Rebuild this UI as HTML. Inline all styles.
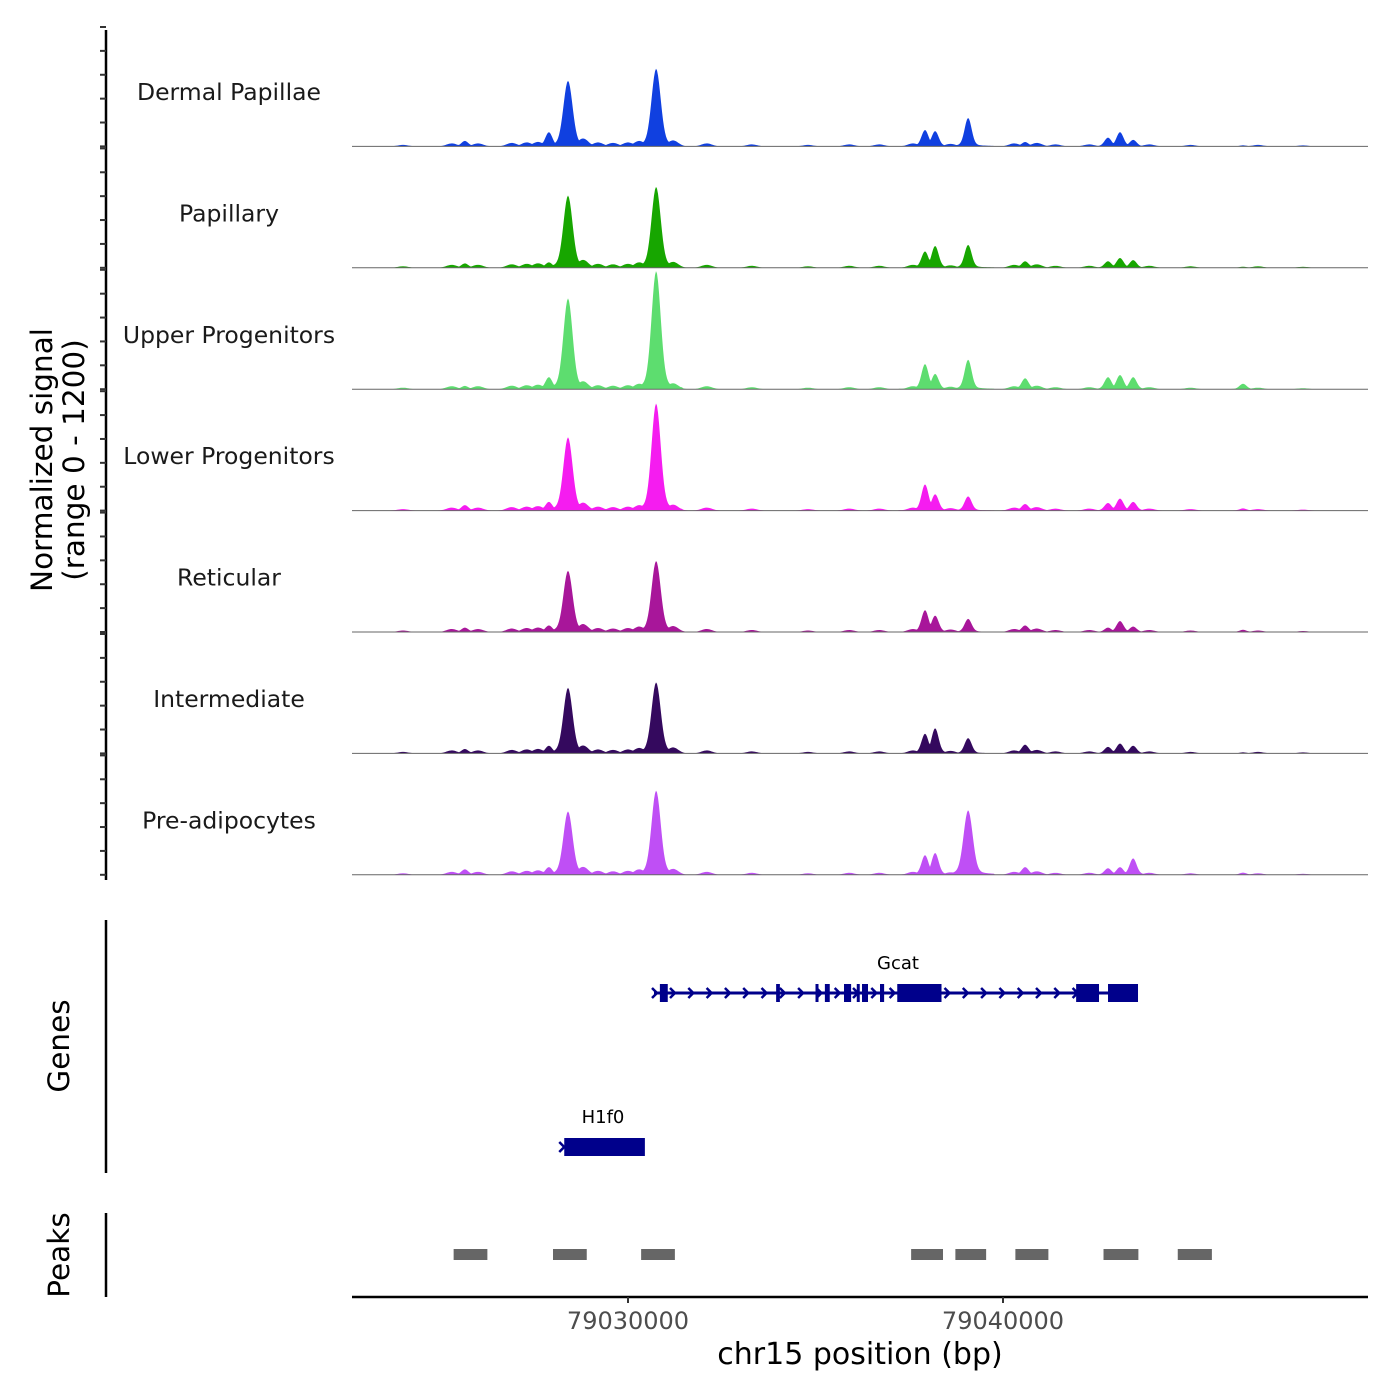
<!DOCTYPE html>
<html><head><meta charset="utf-8"><style>
html,body{margin:0;padding:0;background:#fff;}
svg{display:block;font-family:"DejaVu Sans","Liberation Sans",sans-serif;}
</style></head><body>
<svg id="chart" width="1400" height="1400" viewBox="0 0 1400 1400" xmlns="http://www.w3.org/2000/svg">
<g id="tracks"></g>
<g id="yaxis"></g>
<text transform="translate(52,460) rotate(-90)" text-anchor="middle" font-size="29.5" fill="#000">Normalized signal</text>
<text transform="translate(84,460) rotate(-90)" text-anchor="middle" font-size="29.5" fill="#000">(range 0 - 1200)</text>
<g id="genes"></g>
<line x1="106" y1="920" x2="106" y2="1173" stroke="#000" stroke-width="2.5"/>
<text transform="translate(69,1046) rotate(-90)" text-anchor="middle" font-size="29.5" fill="#000">Genes</text>
<g id="peaks"></g>
<line x1="106" y1="1213" x2="106" y2="1297" stroke="#000" stroke-width="2.5"/>
<text transform="translate(69,1255) rotate(-90)" text-anchor="middle" font-size="29.5" fill="#000">Peaks</text>
<g id="xaxis"></g>
<text x="860" y="1364" text-anchor="middle" font-size="30" fill="#000">chr15 position (bp)</text>
</svg>
<script>
const trackNames = ["Dermal Papillae","Papillary","Upper Progenitors","Lower Progenitors","Reticular","Intermediate","Pre-adipocytes"];
const trackColors = ["#1040e0","#17a600","#5ddd6f","#f51cf0","#a8169a","#34095e","#bf4ff5"];
const peakPositions = [79025650,79027890,79028400,79030750,79037920,79038190,79039070,79040590,79042800,79043120,79043470,79046400];
const dermalValues = [50,130,600,710,150,140,260,40,80,130,60,10];
const papillaryValues = [40,50,660,740,150,200,210,60,60,90,70,10];
const upperValues = [30,110,830,1080,230,140,270,100,110,130,110,50];
const lowerValues = [50,80,670,980,240,150,130,60,70,110,80,20];
const reticularValues = [40,60,560,650,200,150,120,60,40,100,50,20];
const intermediateValues = [40,70,600,650,180,230,140,80,60,90,70,10];
const preadipValues = [50,70,580,770,180,200,590,70,60,70,150,20];
const trackValues = [dermalValues,papillaryValues,upperValues,lowerValues,reticularValues,intermediateValues,preadipValues];
const backgroundPositions = [79024000,79025300,79026000,79026900,79027300,79027600,79028800,79029200,79029600,79030000,79030300,79031200,79032100,79033300,79034800,79035900,79036700,79037600,79038600,79040300,79040900,79041400,79042300,79043900,79045000,79046800,79048000];
const backgroundValues = [15,30,30,35,40,45,80,40,35,40,55,60,30,20,15,20,20,30,25,30,35,20,20,20,15,15,10];
const geneNames = ["Gcat","H1f0"];
const gcatStart = 79030800, gcatEnd = 79043500;
const gcatExons = [[79030850,79031060],[79033950,79034050],[79035000,79035080],[79035250,79035380],[79035760,79035950],[79036100,79036160],[79036240,79036400],[79036720,79036830],[79037180,79038360],[79041950,79042560],[79042800,79043600]];
const h1f0Start = 79028300, h1f0End = 79030450;
const peakRegions = [[79025350,79026250],[79028000,79028900],[79030350,79031250],[79037550,79038400],[79038730,79039550],[79040330,79041210],[79042680,79043610],[79044660,79045570]];
const xTicks = [79030000,79040000];

const NS="http://www.w3.org/2000/svg";
function mk(tag,attrs,parent){const e=document.createElementNS(NS,tag);for(const k in attrs)e.setAttribute(k,attrs[k]);parent.appendChild(e);return e;}
const X0=352,X1=1368,G0=79022640,G1=79049733;
function xs(p){return X0+(p-G0)/(G1-G0)*(X1-X0);}
const TOP=25,TH=121.4,MAX=1200;
function base(i){return TOP+(i+1)*TH;}
function ys(v,i){return base(i)-v/MAX*(TH-2);}

const tracks=document.getElementById('tracks');
trackNames.forEach((nm,i)=>{
  const g=mk('g',{},tracks);
  
  
  const vals=trackValues[i];
  let d='M'+X0+','+base(i);
  for(let px=X0;px<=1325;px+=1){
    const p=G0+(px-X0)/(X1-X0)*(G1-G0);
    let v=0;
    peakPositions.forEach((c,k)=>{const w=vals[k]>300?170:130;const t=(p-c)/w;v=Math.max(v,vals[k]*Math.exp(-t*t)+(Math.abs(p-c)<700?vals[k]*0.1*Math.exp(-Math.abs(p-c)/400):0));});
    backgroundPositions.forEach((c,k)=>{const t=(p-c)/200;v=Math.max(v,backgroundValues[k]*Math.exp(-t*t));});
    d+=' L'+px+','+ys(v,i).toFixed(2);
  }
  d+=' L1325,'+base(i)+' Z';
  const a=mk('path',{d:d,fill:trackColors[i]},g);
  
  
  const bl=mk('line',{x1:X0,x2:X1,y1:base(i),y2:base(i),stroke:'#666','stroke-width':1},g);
  
  
  const t=mk('text',{x:229,y:base(i)-TH+75,'text-anchor':'middle','font-size':23.5,fill:'#1a1a1a'},g);
  t.textContent=nm;
  
  
});

const ya=document.getElementById('yaxis');
mk('line',{x1:106,x2:106,y1:30,y2:880,stroke:'#000','stroke-width':2.5},ya);
for(let i=0;i<7;i++){
  for(let k=0;k<=5;k++){
    const y=ys(k*240,i);
    mk('line',{x1:100,x2:106,y1:y,y2:y,stroke:'#333','stroke-width':2},ya);
  }
}

const gg=document.getElementById('genes');
const GY=993;
const gl=mk('line',{x1:xs(gcatStart)-4,x2:xs(gcatEnd),y1:GY,y2:GY,stroke:'#00008b','stroke-width':3},gg);


for(let px=xs(gcatStart)+16;px<xs(gcatEnd);px+=18.3){
  mk('path',{d:`M${px-4},${GY-5} L${px+1},${GY} L${px-4},${GY+5}`,stroke:'#00008b','stroke-width':2.5,fill:'none'},gg);
}
mk('path',{d:`M${xs(gcatStart)-6},${GY-5} L${xs(gcatStart)-1},${GY} L${xs(gcatStart)-6},${GY+5}`,stroke:'#00008b','stroke-width':2.5,fill:'none'},gg);
gcatExons.forEach(e=>{
  const r=mk('rect',{x:xs(e[0]),y:GY-9,width:Math.max(3,xs(e[1])-xs(e[0])),height:18,fill:'#00008b'},gg);
  
  
});
const lbl1=mk('text',{x:898,y:969,'text-anchor':'middle','font-size':18,fill:'#000'},gg);
lbl1.textContent=geneNames[0];


const HY=1147;
mk('path',{d:`M${xs(h1f0Start)-5},${HY-5} L${xs(h1f0Start)},${HY} L${xs(h1f0Start)-5},${HY+5}`,stroke:'#00008b','stroke-width':2.5,fill:'none'},gg);
const hr=mk('rect',{x:xs(h1f0Start),y:HY-9,width:xs(h1f0End)-xs(h1f0Start),height:18,fill:'#00008b'},gg);


const lbl2=mk('text',{x:603,y:1123,'text-anchor':'middle','font-size':18,fill:'#000'},gg);
lbl2.textContent=geneNames[1];



const pk=document.getElementById('peaks');
peakRegions.forEach(r=>{
  const e=mk('rect',{x:xs(r[0]),y:1249,width:xs(r[1])-xs(r[0]),height:11,fill:'#666'},pk);
  
  
});

const xa=document.getElementById('xaxis');
mk('line',{x1:X0,x2:X1,y1:1297,y2:1297,stroke:'#000','stroke-width':2.5},xa);
xTicks.forEach(t=>{
  const x=xs(t);
  mk('line',{x1:x,x2:x,y1:1297,y2:1303,stroke:'#333','stroke-width':2},xa);
  const tx=mk('text',{x:x,y:1329,'text-anchor':'middle','font-size':24,fill:'#4d4d4d'},xa);
  tx.textContent=String(t);
  
  
});
</script>
</body></html>
